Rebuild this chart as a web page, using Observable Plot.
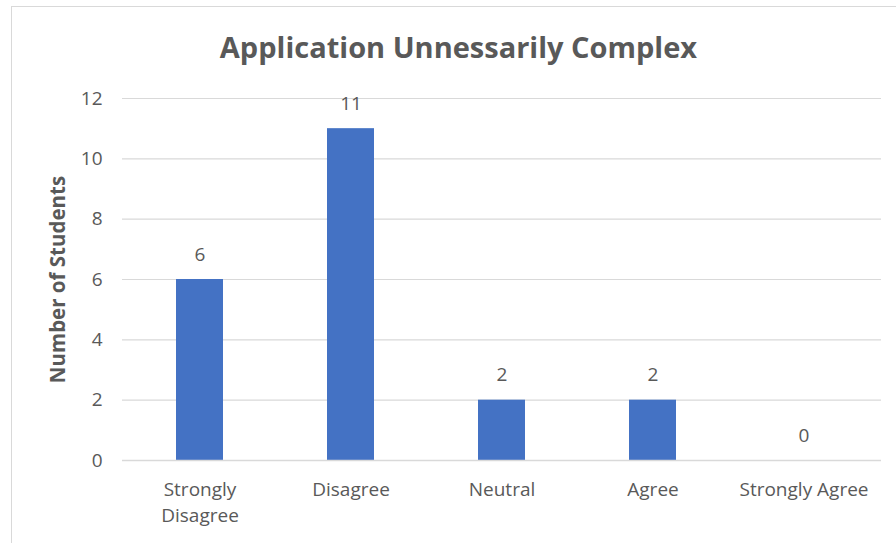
<!DOCTYPE html>
<html>
<head>
<meta charset="utf-8">
<script src="https://cdn.jsdelivr.net/npm/d3@7"></script>
<script src="https://cdn.jsdelivr.net/npm/@observablehq/plot@0.6"></script>
<style>
  html, body { margin: 0; padding: 0; background: #fff; }
  body { width: 896px; height: 543px; overflow: hidden; position: relative; font-family: "Open Sans", sans-serif; }
  #frame { position: absolute; left: 11px; top: 6px; width: 900px; height: 560px; border: 1px solid #d9d9d9; box-sizing: border-box; }
  #title { position: relative; height: 67px; line-height: 67px; padding-top: 13px; text-align: center; font-size: 29px; font-weight: bold; color: #595959; padding-left: 21px; }
  #chart { position: relative; }
</style>
</head>
<body>
<div id="frame"></div>
<div id="title">Application Unnessarily Complex</div>
<div id="chart"></div>
<script>
// Survey responses: how many students found the application unnecessarily complex
const categories = ["Strongly Disagree", "Disagree", "Neutral", "Agree", "Strongly Agree"];
const tickLabels = ["Strongly\nDisagree", "Disagree", "Neutral", "Agree", "Strongly Agree"];
const counts = [6, 11, 2, 2, 0];
const yTicks = [0, 2, 4, 6, 8, 10, 12];
const yLabel = "Number of Students";

const data = categories.map((c, i) => ({category: c, count: counts[i]}));
const labelOf = new Map(categories.map((c, i) => [c, tickLabels[i]]));

const grey = "#595959";
const gridColor = "#d9d9d9";
const font = "'Open Sans', sans-serif";

const chart = Plot.plot({
  width: 896,
  height: 463,
  marginLeft: 122,
  marginRight: 15,
  marginTop: 18,
  marginBottom: 83,
  style: {fontFamily: font, fontSize: "19px", color: grey, background: "transparent"},
  x: {domain: categories, paddingInner: 0.69, paddingOuter: 0.345, label: null},
  y: {domain: [0, 12], label: null},
  marks: [
    Plot.gridY(yTicks, {stroke: gridColor, strokeOpacity: 1, strokeWidth: 1.2}),
    Plot.barY(data, {x: "category", y: "count", fill: "#4472C4"}),
    Plot.ruleY([0], {stroke: gridColor, strokeWidth: 1.5}),
    Plot.axisY({ticks: yTicks, tickSize: 0, tickPadding: 20, label: null, fill: grey, fontSize: 19}),
    Plot.axisX({tickSize: 0, tickPadding: 17, label: null, fill: grey, fontSize: 19,
      tickFormat: d => labelOf.get(d), lineHeight: 1.37}),
    Plot.text(data, {x: "category", y: "count", text: d => String(d.count), dy: -25, fill: grey, fontSize: 19}),
    Plot.text([yLabel], {frameAnchor: "left", dx: -64, rotate: -90, textAnchor: "middle", fill: grey, fontSize: 20.5, fontWeight: "bold"})
  ]
});
document.getElementById("chart").appendChild(chart);
</script>
</body>
</html>
